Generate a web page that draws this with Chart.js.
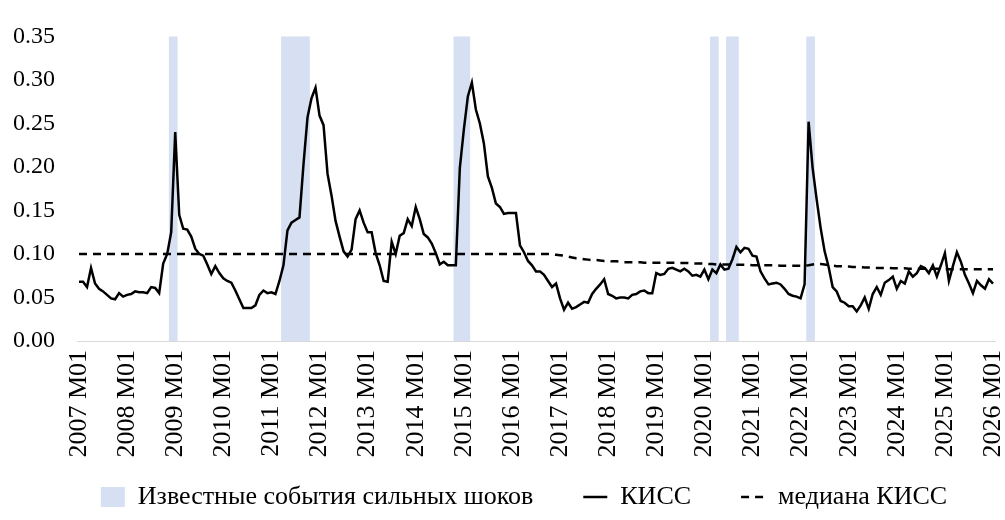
<!DOCTYPE html>
<html>
<head>
<meta charset="utf-8">
<script src="https://cdn.jsdelivr.net/npm/chart.js@4.4.0/dist/chart.umd.min.js"></script>
<style>
  html, body { margin: 0; padding: 0; background: #fff; }
</style>
</head>
<body>
<canvas id="kissChart" width="1005" height="520"></canvas>
<script>
// месяцы 2007 M01 ... 2026 M01
const years = [2007, 2008, 2009, 2010, 2011, 2012, 2013, 2014, 2015, 2016,
               2017, 2018, 2019, 2020, 2021, 2022, 2023, 2024, 2025, 2026];
const categories = [];
for (const y of years) {
    for (let m = 1; m <= 12; m++) {
        if (y === 2026 && m > 1) break;
        categories.push(`${y} M${String(m).padStart(2, '0')}`);
    }
}

// КИСС, по строке на год
const kiss = [
    0.068, 0.068, 0.062, 0.084, 0.066, 0.060, 0.057, 0.053, 0.049, 0.048, 0.055, 0.051,
    0.053, 0.054, 0.057, 0.056, 0.056, 0.055, 0.062, 0.061, 0.055, 0.089, 0.100, 0.125,
    0.240, 0.145, 0.129, 0.128, 0.120, 0.106, 0.100, 0.098, 0.088, 0.077, 0.086, 0.078,
    0.072, 0.069, 0.067, 0.058, 0.048, 0.038, 0.038, 0.038, 0.041, 0.053, 0.058, 0.055,
    0.056, 0.054, 0.069, 0.087, 0.127, 0.136, 0.139, 0.142, 0.203, 0.257, 0.279, 0.291,
    0.259, 0.248, 0.192, 0.167, 0.138, 0.120, 0.103, 0.097, 0.105, 0.140, 0.150, 0.136,
    0.125, 0.125, 0.101, 0.087, 0.069, 0.068, 0.114, 0.100, 0.121, 0.124, 0.140, 0.132,
    0.154, 0.140, 0.123, 0.119, 0.112, 0.101, 0.088, 0.091, 0.087, 0.087, 0.087, 0.199,
    0.243, 0.281, 0.297, 0.266, 0.250, 0.227, 0.189, 0.176, 0.158, 0.154, 0.146, 0.147,
    0.147, 0.147, 0.110, 0.102, 0.092, 0.087, 0.080, 0.080, 0.076, 0.069, 0.062, 0.066,
    0.049, 0.036, 0.044, 0.037, 0.039, 0.042, 0.045, 0.044, 0.054, 0.060, 0.065, 0.071,
    0.054, 0.052, 0.049, 0.050, 0.050, 0.049, 0.053, 0.054, 0.057, 0.058, 0.055, 0.055,
    0.078, 0.076, 0.077, 0.083, 0.084, 0.082, 0.080, 0.083, 0.080, 0.075, 0.076, 0.074,
    0.082, 0.071, 0.082, 0.078, 0.088, 0.082, 0.083, 0.094, 0.108, 0.102, 0.107, 0.106,
    0.098, 0.097, 0.080, 0.072, 0.065, 0.066, 0.067, 0.065, 0.060, 0.054, 0.052, 0.051,
    0.049, 0.065, 0.252, 0.199, 0.163, 0.130, 0.103, 0.085, 0.062, 0.057, 0.046, 0.044,
    0.040, 0.040, 0.034, 0.041, 0.050, 0.037, 0.054, 0.062, 0.053, 0.067, 0.070, 0.074,
    0.060, 0.069, 0.066, 0.080, 0.074, 0.078, 0.086, 0.084, 0.078, 0.087, 0.074, 0.087,
    0.101, 0.069, 0.086, 0.102, 0.091, 0.076, 0.066, 0.055, 0.069, 0.064, 0.060, 0.071,
    0.066
];

// медиана КИСС
const kissMedian = [
    0.100, 0.100, 0.100, 0.100, 0.100, 0.100, 0.100, 0.100, 0.100, 0.100, 0.100, 0.100,
    0.100, 0.100, 0.100, 0.100, 0.100, 0.100, 0.100, 0.100, 0.100, 0.100, 0.100, 0.100,
    0.100, 0.100, 0.100, 0.100, 0.100, 0.100, 0.100, 0.100, 0.100, 0.100, 0.100, 0.100,
    0.100, 0.100, 0.100, 0.100, 0.100, 0.100, 0.100, 0.100, 0.100, 0.100, 0.100, 0.100,
    0.100, 0.100, 0.100, 0.100, 0.100, 0.100, 0.100, 0.100, 0.100, 0.100, 0.100, 0.100,
    0.100, 0.100, 0.100, 0.100, 0.100, 0.100, 0.100, 0.100, 0.100, 0.100, 0.100, 0.100,
    0.100, 0.100, 0.100, 0.100, 0.100, 0.100, 0.100, 0.100, 0.100, 0.100, 0.100, 0.100,
    0.100, 0.100, 0.100, 0.100, 0.100, 0.100, 0.100, 0.100, 0.100, 0.100, 0.100, 0.100,
    0.100, 0.100, 0.100, 0.100, 0.100, 0.100, 0.100, 0.100, 0.100, 0.100, 0.100, 0.100,
    0.100, 0.100, 0.100, 0.100, 0.100, 0.100, 0.100, 0.100, 0.100, 0.100, 0.0995, 0.099,
    0.0985, 0.098, 0.097, 0.096, 0.095, 0.0945, 0.094, 0.0935, 0.093, 0.093, 0.0925, 0.092,
    0.092, 0.0915, 0.0915, 0.091, 0.0905, 0.0905, 0.0905, 0.0905, 0.0905, 0.090, 0.090, 0.090,
    0.090, 0.090, 0.090, 0.090, 0.090, 0.090, 0.0895, 0.0895, 0.0895, 0.089, 0.089, 0.089,
    0.089, 0.0885, 0.0885, 0.088, 0.088, 0.088, 0.088, 0.088, 0.0875, 0.0875, 0.0875, 0.0875,
    0.087, 0.087, 0.087, 0.087, 0.087, 0.087, 0.087, 0.0865, 0.0865, 0.0865, 0.0865, 0.0865,
    0.0865, 0.0865, 0.087, 0.088, 0.0885, 0.0885, 0.088, 0.087, 0.0865, 0.086, 0.086, 0.0855,
    0.0855, 0.085, 0.085, 0.085, 0.0845, 0.0845, 0.0845, 0.084, 0.084, 0.084, 0.084, 0.0835,
    0.0835, 0.0835, 0.0835, 0.083, 0.083, 0.083, 0.083, 0.083, 0.083, 0.083, 0.083, 0.083,
    0.0825, 0.0825, 0.0825, 0.0825, 0.0825, 0.0825, 0.0825, 0.0825, 0.0825, 0.0825, 0.0825, 0.0825,
    0.0825
];

// известные события сильных шоков
const shockMonths = [
    '2008 M12', '2009 M01',
    '2011 M04', '2011 M05', '2011 M06', '2011 M07', '2011 M08', '2011 M09', '2011 M10',
    '2014 M11', '2014 M12', '2015 M01', '2015 M02',
    '2020 M03', '2020 M04',
    '2020 M07', '2020 M08', '2020 M09',
    '2022 M03', '2022 M04'
];
const shockLevel = 0.35;

const yTicks = [0, 0.05, 0.10, 0.15, 0.20, 0.25, 0.30, 0.35];

Chart.defaults.font.family = '"Liberation Serif", "Times New Roman", serif';
Chart.defaults.color = '#000';

const legendStyles = ['rect', 'line', 'line'];

// сдвиг легенды как в оригинале (центр ~524 px)
const legendPlace = {
    id: 'legendPlace',
    afterLayout(chart) {
        chart.legend.left = 20;
        chart.legend.right = 1028;
        chart.legend.width = 1008;
        chart.legend.top = 434;
    }
};

new Chart(document.getElementById('kissChart'), {
    type: 'bar',
    data: {
        labels: categories,
        datasets: [
            {
                label: 'Известные события сильных шоков',
                data: categories.map(c => shockMonths.includes(c) ? shockLevel : null),
                backgroundColor: '#D6E0F2',
                borderWidth: 0,
                barPercentage: 1,
                categoryPercentage: 1,
                order: 3
            },
            {
                type: 'line',
                label: 'КИСС',
                data: kiss,
                borderColor: '#000',
                backgroundColor: '#000',
                borderWidth: 2.5,
                pointRadius: 0,
                tension: 0,
                order: 1
            },
            {
                type: 'line',
                label: 'медиана КИСС',
                data: kissMedian,
                borderColor: '#000',
                backgroundColor: '#000',
                borderWidth: 2.5,
                borderDash: [8, 6],
                pointRadius: 0,
                tension: 0,
                order: 2
            }
        ]
    },
    options: {
        responsive: false,
        animation: false,
        layout: { padding: { left: 0, right: 10, top: 20, bottom: 0 } },
        scales: {
            x: {
                offset: true,
                grid: { display: false, drawTicks: false },
                border: { display: true, color: '#d9d9d9', width: 1 },
                ticks: {
                    autoSkip: false,
                    maxRotation: 90,
                    minRotation: 90,
                    padding: 9,
                    color: '#000',
                    font: { size: 26 },
                    callback: (v, i) => categories[i].endsWith('M01') ? categories[i] : ''
                },
                afterFit: s => { s.height = 130; s.paddingLeft = 0; s.paddingRight = 0; }
            },
            y: {
                min: 0,
                max: 0.35,
                grid: { display: false, drawTicks: false },
                border: { display: false },
                afterBuildTicks: s => { s.ticks = yTicks.map(v => ({ value: v })); },
                ticks: {
                    padding: 22,
                    color: '#000',
                    font: { size: 24 },
                    callback: v => Number(v).toFixed(2)
                },
                afterFit: s => { s.width = 77; }
            }
        },
        plugins: {
            tooltip: { enabled: false },
            legend: {
                position: 'bottom',
                maxHeight: 49,
                labels: {
                    usePointStyle: true,
                    pointStyleWidth: 24,
                    boxHeight: 20,
                    padding: 50,
                    color: '#000',
                    font: { size: 26 },
                    generateLabels: chart => {
                        const items = Chart.defaults.plugins.legend.labels.generateLabels(chart);
                        items.forEach(it => {
                            const ds = chart.data.datasets[it.datasetIndex];
                            it.pointStyle = legendStyles[it.datasetIndex];
                            it.lineWidth = ds.borderWidth;
                            it.lineDash = ds.borderDash || [];
                            it.strokeStyle = ds.borderColor;
                            it.fillStyle = ds.backgroundColor;
                        });
                        return items;
                    },
                    sort: (a, b) => a.datasetIndex - b.datasetIndex
                }
            }
        }
    },
    plugins: [legendPlace]
});
</script>
</body>
</html>
